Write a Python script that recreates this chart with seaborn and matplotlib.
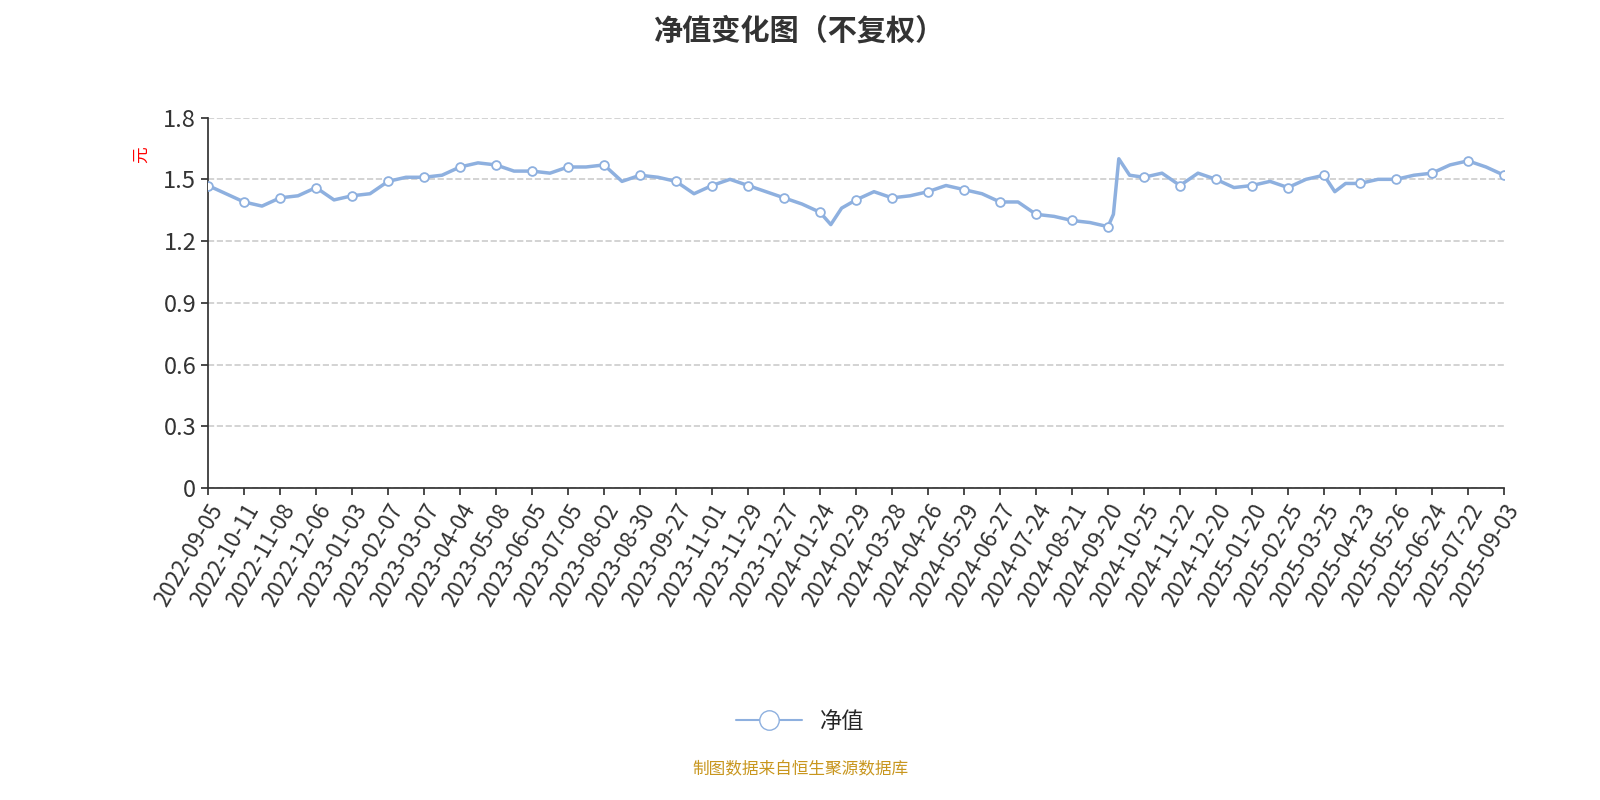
import numpy as np
import pandas as pd
import seaborn as sns
import matplotlib.pyplot as plt

tick_labels = ['2022-09-05', '2022-10-11', '2022-11-08', '2022-12-06', '2023-01-03', '2023-02-07',
               '2023-03-07', '2023-04-04', '2023-05-08', '2023-06-05', '2023-07-05', '2023-08-02',
               '2023-08-30', '2023-09-27', '2023-11-01', '2023-11-29', '2023-12-27', '2024-01-24',
               '2024-02-29', '2024-03-28', '2024-04-26', '2024-05-29', '2024-06-27', '2024-07-24',
               '2024-08-21', '2024-09-20', '2024-10-25', '2024-11-22', '2024-12-20', '2025-01-20',
               '2025-02-25', '2025-03-25', '2025-04-23', '2025-05-26', '2025-06-24', '2025-07-22',
               '2025-09-03']
tick_values = [1.47, 1.39, 1.41, 1.46, 1.42, 1.49, 1.51, 1.56, 1.57, 1.54, 1.56, 1.57, 1.52,
               1.49, 1.47, 1.47, 1.41, 1.34, 1.40, 1.41, 1.44, 1.45, 1.39, 1.33, 1.30, 1.27,
               1.51, 1.47, 1.50, 1.47, 1.46, 1.52, 1.48, 1.50, 1.53, 1.59, 1.52]
# in-between readings (position in tick units, value)
mid_pos = [0.5, 1.5, 2.5, 3.5, 4.5, 5.5, 6.5, 7.5, 8.5, 9.5, 10.5, 11.5, 12.5, 13.5, 14.5,
           15.5, 16.5, 17.3, 17.6, 18.5, 19.5, 20.5, 21.5, 22.5, 23.5, 24.5, 25.15, 25.3,
           25.6, 26.5, 27.5, 28.5, 29.5, 30.5, 31.3, 31.6, 32.5, 33.5, 34.5, 35.5]
mid_values = [1.43, 1.37, 1.42, 1.40, 1.43, 1.51, 1.52, 1.58, 1.54, 1.53, 1.56, 1.49, 1.51,
              1.43, 1.50, 1.44, 1.38, 1.28, 1.36, 1.44, 1.42, 1.47, 1.43, 1.39, 1.32, 1.29,
              1.33, 1.60, 1.52, 1.53, 1.53, 1.46, 1.49, 1.50, 1.44, 1.48, 1.50, 1.52, 1.57, 1.56]

ticks = pd.DataFrame({'pos': np.arange(len(tick_labels)), 'nav': tick_values})
line = pd.concat([ticks, pd.DataFrame({'pos': mid_pos, 'nav': mid_values})]).sort_values('pos')

sns.set_theme(style='white')
plt.rcParams['font.family'] = ['Noto Sans CJK SC', 'DejaVu Sans']

color = '#8eb0df'
fig, ax = plt.subplots(figsize=(16, 8), dpi=100)
fig.subplots_adjust(left=0.13, right=0.94, top=0.853, bottom=0.39)

sns.lineplot(data=line, x='pos', y='nav', color=color, lw=2.5, ax=ax, label='净值')
sns.scatterplot(data=ticks, x='pos', y='nav', color='white', edgecolor=color, s=40,
                linewidth=1.3, ax=ax, zorder=3)

ax.set_xlim(0, len(tick_labels) - 1)
ax.set_ylim(0, 1.8)
ax.set_yticks([0, 0.3, 0.6, 0.9, 1.2, 1.5, 1.8])
ax.set_yticklabels(['0', '0.3', '0.6', '0.9', '1.2', '1.5', '1.8'], fontsize=17, color='#333333')
ax.set_xticks(ticks['pos'])
ax.set_xticklabels(tick_labels, rotation=60, ha='right', rotation_mode='anchor',
                   fontsize=16, color='#333333')
ax.tick_params(axis='both', length=5, color='#333333', bottom=True, left=True)
ax.yaxis.grid(True, ls='--', color='#cccccc', lw=1.2)
ax.set_xlabel('')
ax.set_ylabel('元', color='red', fontsize=12)
ax.yaxis.set_label_coords(-0.045, 0.9)
for s in ['top', 'right']:
    ax.spines[s].set_visible(False)
for s in ['left', 'bottom']:
    ax.spines[s].set_color('#333333')

ax.legend_.remove()
h = plt.Line2D([], [], color=color, marker='o', markersize=14, markerfacecolor='white', lw=1.5)
fig.legend([h], ['净值'], loc='center', bbox_to_anchor=(0.5, 0.098), frameon=False,
           fontsize=16, handlelength=3)

fig.suptitle('净值变化图（不复权）', fontsize=21, fontweight='bold', color='#333333', y=0.98)
fig.text(0.5, 0.032, '制图数据来自恒生聚源数据库', ha='center', fontsize=12, color='#c8961e')

fig.savefig('out.png')
